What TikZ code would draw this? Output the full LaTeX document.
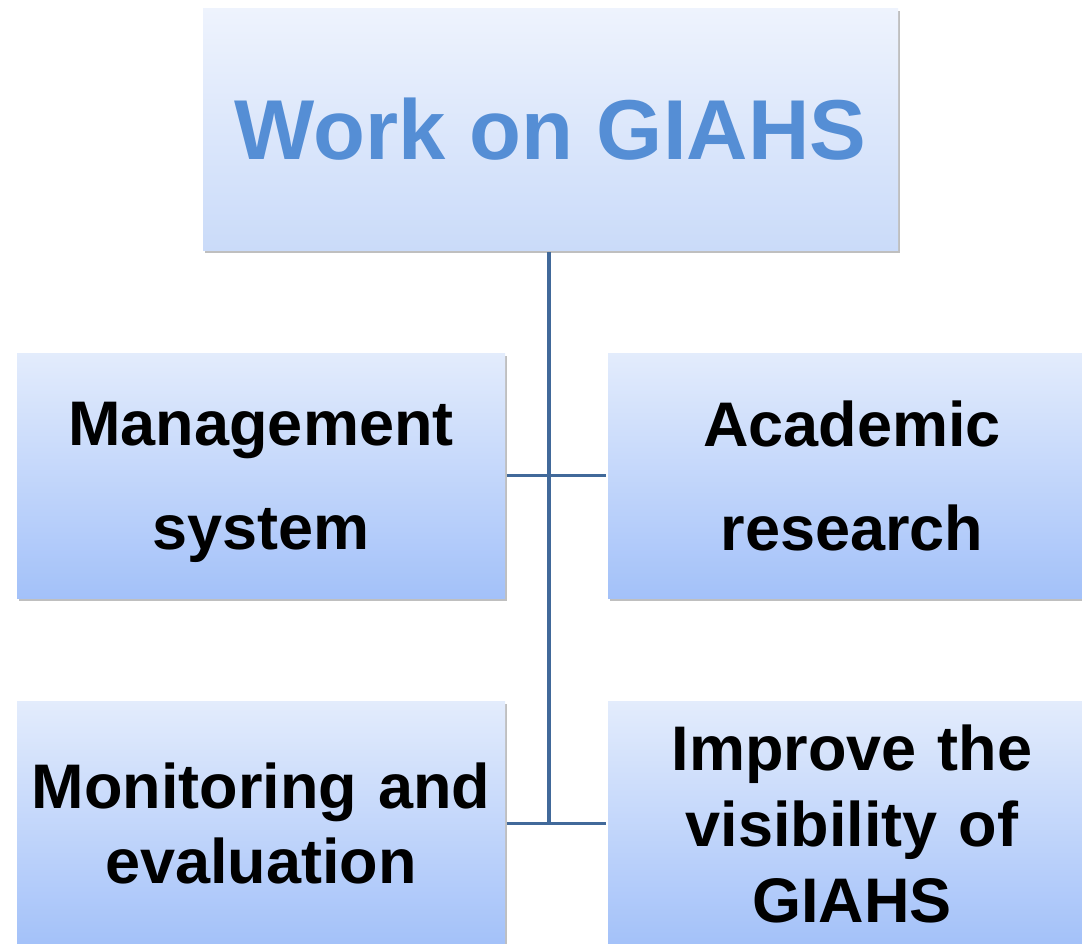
\documentclass[tikz,border=0pt]{standalone}
\usepackage{fontspec}
\setmainfont{Liberation Sans}
\usetikzlibrary{shadows}
\definecolor{linkblue}{HTML}{41699A}
\definecolor{titleblue}{HTML}{558ED5}
\definecolor{paletop}{HTML}{EEF3FD}
\definecolor{palebot}{HTML}{CADBF9}
\definecolor{boxtop}{HTML}{E3ECFC}
\definecolor{boxbot}{HTML}{A3C1F9}
\newlength{\lw}
\setlength{\lw}{3.5pt}
\tikzstyle{every picture}+=[x=1pt,y=-1pt]
\tikzstyle{every picture}+=[line width=\lw]
\tikzstyle{every picture}+=[every shadow/.style={opacity=.5}]
\tikzstyle{topbox}=[rectangle,minimum width=695pt,minimum height=242pt,
  top color=paletop,bottom color=palebot,draw=none,
  drop shadow={shadow xshift=2pt,shadow yshift=-3pt,fill=gray}]
\tikzstyle{subbox}=[rectangle,minimum width=488pt,minimum height=245pt,
  top color=boxtop,bottom color=boxbot,draw=none,
  drop shadow={shadow xshift=2pt,shadow yshift=-3pt,fill=gray},
  text width=480pt,align=center,
  font=\fontsize{63}{104}\selectfont\bfseries]
\tikzstyle{link}=[draw=linkblue,line width=\lw]

\begin{document}
\begin{tikzpicture}
\useasboundingbox (0,0) rectangle (1082,943);

\node[topbox,font=\fontsize{85}{100}\selectfont\bfseries,text=titleblue] (work) at (550.5,129) {Work on GIAHS};

\node[subbox] (mgmt) at (261,475.5) {Management\\\smash{system}};
\node[subbox] (acad) at (852,475.5) {Academic\\research};
\node[subbox,font=\fontsize{63}{75}\selectfont\bfseries] (monit) at (261,823.5) {Monitoring and\\evaluation};
\node[subbox,font=\fontsize{63}{76}\selectfont\bfseries] (impr) at (852,823.5) {Improve the\\visibility of\\GIAHS};

\coordinate (j2) at (549,822);

\draw[link] (work.south -| j2) -- (j2);
\draw[link] (mgmt.east) -- (acad.west);
\draw[link] (monit.east) -- (impr.west);
\end{tikzpicture}
\end{document}
